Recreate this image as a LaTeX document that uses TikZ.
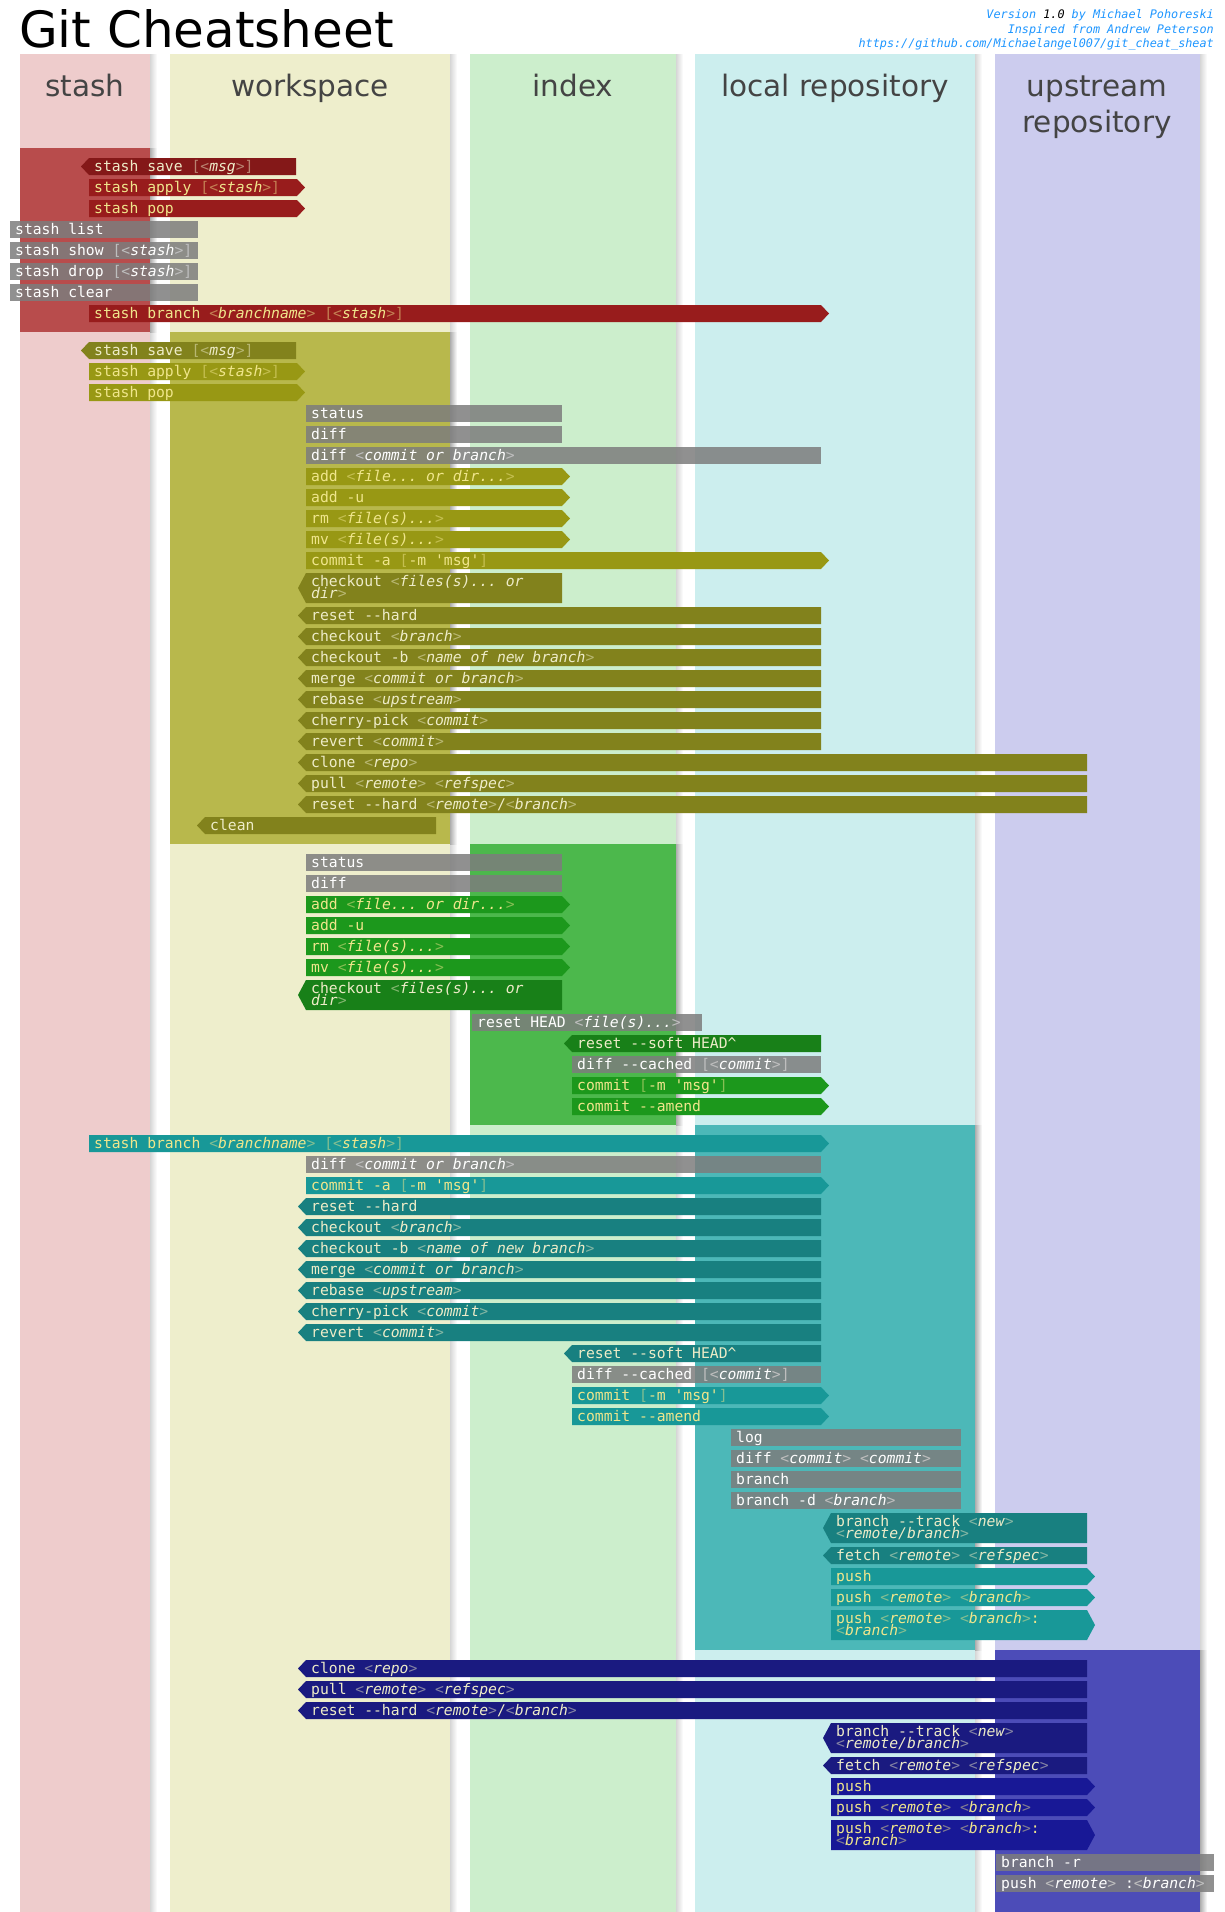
\documentclass[tikz,border=0pt]{standalone}
\usepackage{fontspec}
\setmainfont{DejaVu Sans}
\setsansfont{DejaVu Sans}
\setmonofont{DejaVu Sans Mono}
\definecolor{stashL}{RGB}{238,204,204}
\definecolor{stashD}{RGB}{184,76,76}
\definecolor{stashf}{RGB}{152,28,28}
\definecolor{stashb}{RGB}{132,24,24}
\definecolor{workL}{RGB}{238,238,204}
\definecolor{workD}{RGB}{184,184,76}
\definecolor{workf}{RGB}{152,152,20}
\definecolor{workb}{RGB}{130,130,28}
\definecolor{indexL}{RGB}{204,238,204}
\definecolor{indexD}{RGB}{76,184,76}
\definecolor{indexf}{RGB}{28,152,28}
\definecolor{indexb}{RGB}{24,128,24}
\definecolor{localL}{RGB}{204,238,238}
\definecolor{localD}{RGB}{76,184,184}
\definecolor{localf}{RGB}{24,152,152}
\definecolor{localb}{RGB}{24,128,128}
\definecolor{upL}{RGB}{204,204,238}
\definecolor{upD}{RGB}{76,76,184}
\definecolor{upf}{RGB}{24,24,150}
\definecolor{upb}{RGB}{26,26,128}
\definecolor{grayB}{RGB}{125,125,125}
\colorlet{stashn}{grayB}\colorlet{workn}{grayB}\colorlet{indexn}{grayB}
\colorlet{localn}{grayB}\colorlet{upn}{grayB}
\definecolor{txf}{RGB}{240,230,140}
\definecolor{txb}{RGB}{238,236,200}
\definecolor{txn}{RGB}{255,255,255}
\definecolor{hdrc}{RGB}{68,68,68}
\definecolor{blu}{RGB}{30,150,255}
\colorlet{mu}{gray}
\newcounter{cmdn}
\newcommand\ag[1]{{\color{mu}<}\textit{#1}{\color{mu}>}}
\newcommand\agl[1]{{\color{mu}<}\textit{#1}}
\newcommand\agr[1]{\textit{#1}{\color{mu}>}}
\newcommand\op[1]{{\color{mu}[}#1{\color{mu}]}}
\newcommand\dd{-{}-}
\newcommand\sq{\textquotesingle}
\newcommand\bxshf[5]{\fill[#1] (#2,#4) -- (#3,#4) -- ({#3+8},{#4+#5/2}) -- (#3,{#4+#5}) -- (#2,{#4+#5}) -- cycle;}
\newcommand\bxshb[5]{\fill[#1] (#2,#4) -- (#3,#4) -- (#3,{#4+#5}) -- (#2,{#4+#5}) -- ({#2-8},{#4+#5/2}) -- cycle;}
\newcommand\bxshn[5]{\fill[#1,fill opacity=.85] (#2,#4) rectangle (#3,{#4+#5});}
\newcommand\Bx[9]{%
  \csname bxsh#1\endcsname{#2}{#4}{#5}{#6}{#7}%
  \stepcounter{cmdn}%
  \node[cmdtext,text=#3] (c\arabic{cmdn}) at ({#4+5},{#6+13.5}) {\colorlet{mu}{#3!50!#2}#8};%
  \if\relax\detokenize{#9}\relax\else
  \node[cmdtext,text=#3] (c\arabic{cmdn}b) at ({#4+5},{#6+25.5}) {\colorlet{mu}{#3!50!#2}#9};%
  \fi}
\newcommand\Row[6]{\Bx{#1}{#2#1}{tx#1}{#3}{#4}{#5}{17}{#6}{}}
\newcommand\Rowd[7]{\Bx{#1}{#2#1}{tx#1}{#3}{#4}{#5}{30}{#6}{#7}}
\tikzset{
  cmdtext/.style={anchor=base west, inner sep=0pt, font=\ttfamily\fontsize{14.7}{17}\selectfont},
  hdr/.style={anchor=base, inner sep=0pt, text=hdrc, font=\sffamily\fontsize{29.5}{33}\selectfont},
  colshadow/.style={left color=black!16, right color=white},
  darkshadow/.style={left color=black!32, right color=white},
  vers/.style={anchor=base east, inner sep=0pt, text=blu, font=\ttfamily\itshape\fontsize{11.8}{15}\selectfont}
}
\begin{document}
\begin{tikzpicture}[x=1pt,y=-1pt]
\useasboundingbox (0,0) rectangle (1225,1912);
\fill[white] (0,0) rectangle (1225,1912);
% columns
\foreach \a/\b/\c in {20/150/stashL,170/450/workL,470/676/indexL,695/975/localL,995/1200/upL}{
  \fill[\c] (\a,54) rectangle (\b,1912);
  \shade[colshadow] (\b,54) rectangle ({\b+7},1912);
}
% dark regions
\fill[stashD] (20,148) rectangle (150,332);
\shade[darkshadow] (150,148) rectangle (157,332);
\fill[workD] (170,332) rectangle (450,844);
\shade[darkshadow] (450,332) rectangle (457,844);
\fill[indexD] (470,844) rectangle (676,1125);
\shade[darkshadow] (676,844) rectangle (683,1125);
\fill[localD] (695,1125) rectangle (975,1650);
\shade[darkshadow] (975,1125) rectangle (982,1650);
\fill[upD] (995,1650) rectangle (1200,1912);
\shade[darkshadow] (1200,1650) rectangle (1207,1912);
% title and headers
\node[anchor=base west, inner sep=0pt, font=\sffamily\fontsize{50}{55}\selectfont] (title) at (19,47) {Git Cheatsheet};
\node[vers] (v1) at (1214,18.3) {Version {\color{black}1.0} by Michael Pohoreski};
\node[vers] (v2) at (1214,33.3) {Inspired from Andrew Peterson};
\node[vers] (v3) at (1214,47.7) {https://github.com/Michaelangel007/git\_cheat\_sheat};
\node[hdr] (h1) at (85,96) {stash};
\node[hdr] (h2) at (310,96) {workspace};
\node[hdr] (h3) at (573,96) {index};
\node[hdr] (h4) at (835,96) {local repository};
\node[hdr] (h5) at (1097,96) {upstream};
\node[hdr] (h5b) at (1097,132) {repository};
% stash section
\Row{b}{stash}{89}{296}{158}{stash save \op{\ag{msg}}}
\Row{f}{stash}{89}{297}{179}{stash apply \op{\ag{stash}}}
\Row{f}{stash}{89}{297}{200}{stash pop}
\Row{n}{stash}{10}{198}{221}{stash list}
\Row{n}{stash}{10}{198}{242}{stash show \op{\ag{stash}}}
\Row{n}{stash}{10}{198}{263}{stash drop \op{\ag{stash}}}
\Row{n}{stash}{10}{198}{284}{stash clear}
\Row{f}{stash}{89}{821}{305}{stash branch \ag{branchname} \op{\ag{stash}}}
% workspace section
\Row{b}{work}{89}{296}{342}{stash save \op{\ag{msg}}}
\Row{f}{work}{89}{297}{363}{stash apply \op{\ag{stash}}}
\Row{f}{work}{89}{297}{384}{stash pop}
\Row{n}{work}{306}{562}{405}{status}
\Row{n}{work}{306}{562}{426}{diff}
\Row{n}{work}{306}{821}{447}{diff \ag{commit or branch}}
\Row{f}{work}{306}{562}{468}{add \ag{file... or dir...}}
\Row{f}{work}{306}{562}{489}{add -u}
\Row{f}{work}{306}{562}{510}{rm \ag{file(s)...}}
\Row{f}{work}{306}{562}{531}{mv \ag{file(s)...}}
\Row{f}{work}{306}{821}{552}{commit -a \op{-m \sq msg\sq}}
\Rowd{b}{work}{306}{562}{573}{checkout \agl{files(s)... or}}{\agr{dir}}
\Row{b}{work}{306}{821}{607}{reset \dd hard}
\Row{b}{work}{306}{821}{628}{checkout \ag{branch}}
\Row{b}{work}{306}{821}{649}{checkout -b \ag{name of new branch}}
\Row{b}{work}{306}{821}{670}{merge \ag{commit or branch}}
\Row{b}{work}{306}{821}{691}{rebase \ag{upstream}}
\Row{b}{work}{306}{821}{712}{cherry-pick \ag{commit}}
\Row{b}{work}{306}{821}{733}{revert \ag{commit}}
\Row{b}{work}{306}{1087}{754}{clone \ag{repo}}
\Row{b}{work}{306}{1087}{775}{pull \ag{remote} \ag{refspec}}
\Row{b}{work}{306}{1087}{796}{reset \dd hard \ag{remote}/\ag{branch}}
\Row{b}{work}{205}{436}{817}{clean}
% index section
\Row{n}{index}{306}{562}{854}{status}
\Row{n}{index}{306}{562}{875}{diff}
\Row{f}{index}{306}{562}{896}{add \ag{file... or dir...}}
\Row{f}{index}{306}{562}{917}{add -u}
\Row{f}{index}{306}{562}{938}{rm \ag{file(s)...}}
\Row{f}{index}{306}{562}{959}{mv \ag{file(s)...}}
\Rowd{b}{index}{306}{562}{980}{checkout \agl{files(s)... or}}{\agr{dir}}
\Row{n}{index}{472}{702}{1014}{reset HEAD \ag{file(s)...}}
\Row{b}{index}{572}{821}{1035}{reset \dd soft HEAD\textasciicircum}
\Row{n}{index}{572}{821}{1056}{diff \dd cached \op{\ag{commit}}}
\Row{f}{index}{572}{821}{1077}{commit \op{-m \sq msg\sq}}
\Row{f}{index}{572}{821}{1098}{commit \dd amend}
% local repository section
\Row{f}{local}{89}{821}{1135}{stash branch \ag{branchname} \op{\ag{stash}}}
\Row{n}{local}{306}{821}{1156}{diff \ag{commit or branch}}
\Row{f}{local}{306}{821}{1177}{commit -a \op{-m \sq msg\sq}}
\Row{b}{local}{306}{821}{1198}{reset \dd hard}
\Row{b}{local}{306}{821}{1219}{checkout \ag{branch}}
\Row{b}{local}{306}{821}{1240}{checkout -b \ag{name of new branch}}
\Row{b}{local}{306}{821}{1261}{merge \ag{commit or branch}}
\Row{b}{local}{306}{821}{1282}{rebase \ag{upstream}}
\Row{b}{local}{306}{821}{1303}{cherry-pick \ag{commit}}
\Row{b}{local}{306}{821}{1324}{revert \ag{commit}}
\Row{b}{local}{572}{821}{1345}{reset \dd soft HEAD\textasciicircum}
\Row{n}{local}{572}{821}{1366}{diff \dd cached \op{\ag{commit}}}
\Row{f}{local}{572}{821}{1387}{commit \op{-m \sq msg\sq}}
\Row{f}{local}{572}{821}{1408}{commit \dd amend}
\Row{n}{local}{731}{961}{1429}{log}
\Row{n}{local}{731}{961}{1450}{diff \ag{commit} \ag{commit}}
\Row{n}{local}{731}{961}{1471}{branch}
\Row{n}{local}{731}{961}{1492}{branch -d \ag{branch}}
\Rowd{b}{local}{831}{1087}{1513}{branch \dd track \ag{new}}{\ag{remote/branch}}
\Row{b}{local}{831}{1087}{1547}{fetch \ag{remote} \ag{refspec}}
\Row{f}{local}{831}{1087}{1568}{push}
\Row{f}{local}{831}{1087}{1589}{push \ag{remote} \ag{branch}}
\Rowd{f}{local}{831}{1087}{1610}{push \ag{remote} \ag{branch}:}{\ag{branch}}
% upstream section
\Row{b}{up}{306}{1087}{1660}{clone \ag{repo}}
\Row{b}{up}{306}{1087}{1681}{pull \ag{remote} \ag{refspec}}
\Row{b}{up}{306}{1087}{1702}{reset \dd hard \ag{remote}/\ag{branch}}
\Rowd{b}{up}{831}{1087}{1723}{branch \dd track \ag{new}}{\ag{remote/branch}}
\Row{b}{up}{831}{1087}{1757}{fetch \ag{remote} \ag{refspec}}
\Row{f}{up}{831}{1087}{1778}{push}
\Row{f}{up}{831}{1087}{1799}{push \ag{remote} \ag{branch}}
\Rowd{f}{up}{831}{1087}{1820}{push \ag{remote} \ag{branch}:}{\ag{branch}}
\Row{n}{up}{996}{1214}{1854}{branch -r}
\Row{n}{up}{996}{1214}{1875}{push \ag{remote} :\ag{branch}}
\end{tikzpicture}
\end{document}
